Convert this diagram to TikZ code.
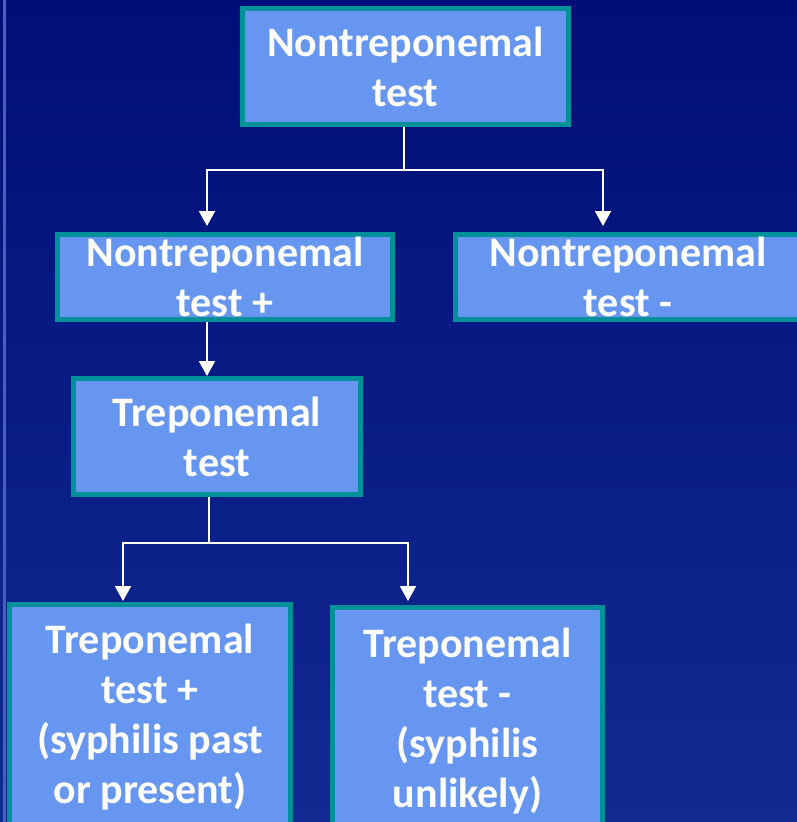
\documentclass[tikz,border=0pt]{standalone}
\usepackage{fontspec}
\setmainfont{Carlito}
\usetikzlibrary{arrows.meta}
\definecolor{bgtop}{RGB}{0,14,120}
\definecolor{bgbot}{RGB}{18,42,146}
\definecolor{boxfill}{RGB}{103,150,240}
\definecolor{boxedge}{RGB}{0,145,155}
\definecolor{sideline}{RGB}{75,95,185}

\begin{document}
\begin{tikzpicture}[x=1pt,y=-1pt,
    testbox/.style={draw=boxedge,fill=boxfill,line width=5pt,inner sep=0pt,
      align=center,text=white,font=\fontsize{42}{50}\selectfont\bfseries},
    link/.style={white,line width=2pt},
    arr/.style={link,-{Triangle[width=16pt,length=15pt]}}]
        \useasboundingbox (0,0) rectangle (797,822);
        \shade[top color=bgtop,bottom color=bgbot] (0,0) rectangle (797,822);
        \draw[sideline,line width=3pt] (4,0) -- (4,822);
        % boxes
        \node[testbox,minimum width=326pt,minimum height=116pt] (nt) at (405.5,66.5) {Nontreponemal\\test};
        \node[testbox,minimum width=335pt,minimum height=85pt] (ntpos) at (225,277) {Nontreponemal\\test +};
        \node[testbox,minimum width=345pt,minimum height=85pt] (ntneg) at (628,277) {Nontreponemal\\test -};
        \node[testbox,minimum width=287pt,minimum height=116pt] (tr) at (217,436.5) {Treponemal\\test};
        \node[testbox,minimum width=281pt,minimum height=225pt] (trpos) at (150,717) {Treponemal\\test +\\(syphilis past\\or present)};
        \node[testbox,minimum width=270pt,minimum height=227pt] (trneg) at (467.5,721) {Treponemal\\test -\\(syphilis\\unlikely)};
        % junctions and arrow ends
        \coordinate (jtop) at (404,170);
        \coordinate (jbot) at (209,543);
        \coordinate (posin) at (207,226);
        \coordinate (negin) at (603,226);
        \coordinate (trin) at (207,376);
        \coordinate (trposin) at (123,601);
        \coordinate (trnegin) at (408,601);
        \draw[link] (nt.south -| jtop) -- (jtop);
        \draw[link] (tr.south -| jbot) -- (jbot);
        \draw[arr] (ntpos.south -| trin) -- (trin);
        \foreach \j/\t in {jtop/posin,jtop/negin,jbot/trposin,jbot/trnegin} {
            \draw[arr] (\j) -| (\t);
          }
      \end{tikzpicture}
\end{document}
